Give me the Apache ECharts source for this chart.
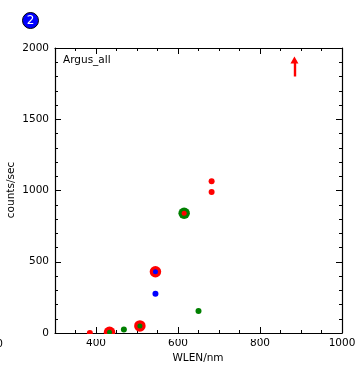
<!DOCTYPE html>
<html>
<head>
<meta charset="utf-8">
<style>
    html, body { margin: 0; padding: 0; background: #fff; }
    #chart { width: 363px; height: 371px; }
</style>
<script src="https://cdn.jsdelivr.net/npm/echarts@6/dist/echarts.min.js"></script>
</head>
<body>
<div id="chart"></div>
<script>
    // values
    const xMajorTicks = [400, 600, 800, 1000];
    const bigRed = [[433, 5], [507, 50], [545, 430]];
    const bigGreen = [[615, 840]];
    const coreRed = [[615, 840]];
    const coreGreen = [[433, 5], [507, 50]];
    const coreBlue = [[545, 430]];
    const smallRed = [[385, 0], [682, 1065], [682, 990]];
    const smallGreen = [[468, 25], [650, 155]];
    const smallBlue = [[545, 275]];
    const arrowFrom = [884, 1800];
    const arrowTo = [884, 1915];

    const FONT = 'DejaVu Sans';
    const rect = {left: 55, top: 48, width: 287, height: 285};

    const dots = (data, color, size) => ({
        type: 'scatter',
        xAxisIndex: 0,
        yAxisIndex: 0,
        data: data,
        symbolSize: size,
        itemStyle: {color: color, opacity: 1},
        silent: true
    });

    const xMajor = (position, showLabel) => ({
        type: 'value',
        gridIndex: 0,
        position: position,
        min: 300,
        max: 1000,
        splitLine: {show: false},
        axisLine: {show: true, onZero: false, lineStyle: {color: '#000', width: 1.2}},
        axisTick: {show: true, inside: true, length: 6, customValues: xMajorTicks, lineStyle: {color: '#000'}},
        axisLabel: showLabel
            ? {show: true, customValues: xMajorTicks, formatter: (v) => String(v), color: '#000', fontFamily: FONT, fontSize: 10.5, margin: 5, hideOverlap: false}
            : {show: false}
    });

    const xMinor = (position) => ({
        type: 'value',
        gridIndex: 1,
        position: position,
        min: 300,
        max: 1000,
        interval: 50,
        splitLine: {show: false},
        axisLine: {show: false, onZero: false},
        axisTick: {show: true, inside: true, length: 3, lineStyle: {color: '#000'}},
        axisLabel: {show: false}
    });

    const yAxisOf = (position, showLabel) => ({
        type: 'value',
        gridIndex: 0,
        position: position,
        min: 0,
        max: 2000,
        interval: 500,
        splitLine: {show: false},
        axisLine: {show: true, onZero: false, lineStyle: {color: '#000', width: 1.2}},
        axisTick: {show: true, inside: true, length: 6, lineStyle: {color: '#000'}},
        minorTick: {show: true, splitNumber: 5, length: 3, lineStyle: {color: '#000'}},
        axisLabel: showLabel
            ? {show: true, formatter: (v) => String(v), color: '#000', fontFamily: FONT, fontSize: 10.5, margin: 6, padding: [4, 0, 0, 0]}
            : {show: false}
    });

    const option = {
        animation: false,
        backgroundColor: '#fff',
        grid: [
            Object.assign({}, rect),
            Object.assign({}, rect)
        ],
        xAxis: [xMajor('bottom', true), xMajor('top', false), xMinor('bottom'), xMinor('top')],
        yAxis: [
            yAxisOf('left', true),
            yAxisOf('right', false),
            {type: 'value', gridIndex: 1, min: 0, max: 2000, show: false}
        ],
        graphic: [
            {type: 'circle', shape: {cx: 30.5, cy: 20.5, r: 8}, style: {fill: '#0000ff', stroke: '#000', lineWidth: 1}},
            {type: 'text', x: 30.5, y: 20.5, style: {text: '2', fill: '#fff', font: '12px "DejaVu Sans"', align: 'center', verticalAlign: 'middle'}},
            {type: 'text', x: 63, y: 60, style: {text: 'Argus_all', fill: '#000', font: '10.5px "DejaVu Sans"', align: 'left', verticalAlign: 'middle'}},
            {type: 'text', x: 198, y: 358, style: {text: 'WLEN/nm', fill: '#000', font: '10.5px "DejaVu Sans"', align: 'center', verticalAlign: 'middle'}},
            {type: 'text', x: 11, y: 190, rotation: Math.PI / 2, style: {text: 'counts/sec', fill: '#000', font: '10.5px "DejaVu Sans"', align: 'center', verticalAlign: 'middle'}},
            // the left tick label is cut off by the page edge in the original
            {type: 'text', x: 3, y: 344, style: {text: '200', fill: '#000', font: '10.5px "DejaVu Sans"', align: 'right', verticalAlign: 'middle'}},
            // markers are cut at the axis in the original
            {type: 'rect', shape: {x: 60, y: 334, width: 200, height: 5}, style: {fill: '#fff'}, z: 100}
        ],
        series: [
            dots(bigRed, '#ff0000', 11.5),
            dots(bigGreen, '#008000', 11.5),
            dots(coreRed, '#ff0000', 5),
            dots(coreGreen, '#008000', 5),
            dots(coreBlue, '#0000ff', 5),
            dots(smallRed, '#ff0000', 6),
            dots(smallGreen, '#008000', 6),
            Object.assign(dots(smallBlue, '#0000ff', 6), {
                markLine: {
                    silent: true,
                    animation: false,
                    symbol: ['none', 'triangle'],
                    symbolSize: [8, 7],
                    label: {show: false},
                    lineStyle: {color: '#ff0000', width: 2.4, type: 'solid', opacity: 1},
                    data: [[{coord: arrowFrom}, {coord: arrowTo}]]
                }
            })
        ]
    };

    const chart = echarts.init(document.getElementById('chart'), null, {renderer: 'canvas'});
    chart.setOption(option);
    window.addEventListener('resize', () => chart.resize());
</script>
</body>
</html>
